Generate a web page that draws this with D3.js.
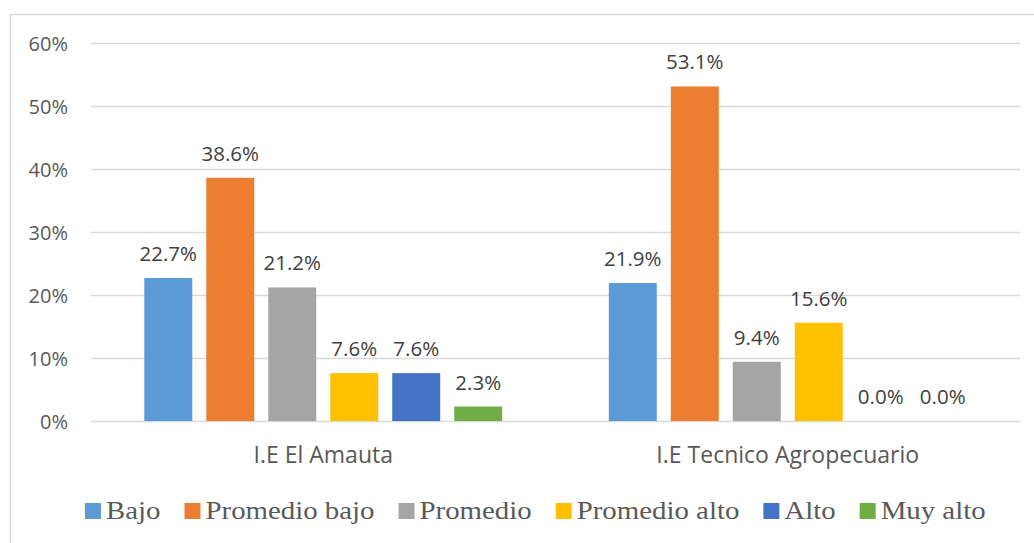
<!DOCTYPE html>
<html>
  <head>
    <meta http-equiv="Content-Type" content="text/html; charset=UTF-8">
    <script type="text/javascript" src="https://cdn.jsdelivr.net/npm/d3@7"></script>
    <style>
      body { margin: 0; background: #fff; }
      #chart { width: 1034px; height: 543px; }
    </style>
  </head>
  <body>
    <div id="chart"></div>
    <script>
// data
var categories = ["I.E El Amauta", "I.E Tecnico Agropecuario"];
var series = ["Bajo", "Promedio bajo", "Promedio", "Promedio alto", "Alto", "Muy alto"];
var amautaValues = [22.7, 38.6, 21.2, 7.6, 7.6, 2.3];
var tecnicoValues = [21.9, 53.1, 9.4, 15.6, 0.0, 0.0];
var yTicks = [0, 10, 20, 30, 40, 50, 60];
var colors = ["#5B9BD5", "#ED7D31", "#A5A5A5", "#FFC000", "#4472C4", "#70AD47"];

var values = [amautaValues, tecnicoValues];

var width = 1034, height = 543;
var margin = {top: 43, left: 91, right: 14, bottom: 122};
var textColor = "#595959";

var svg = d3.select("#chart").append("svg")
    .attr("width", width)
    .attr("height", height);

// chart border
svg.append("rect")
    .attr("x", 10.5)
    .attr("y", 14.5)
    .attr("width", 1040)
    .attr("height", 560)
    .attr("fill", "none")
    .attr("stroke", "#d9d9d9")
    .attr("stroke-width", 1.5);

var x0 = d3.scaleBand()
    .domain(categories)
    .range([margin.left, width - margin.right]);

var x1 = d3.scaleBand()
    .domain(series)
    .range([0, x0.bandwidth()])
    .paddingInner(0.226)
    .paddingOuter(0.86);

var y = d3.scaleLinear()
    .domain([0, 60])
    .range([height - margin.bottom, margin.top]);

// grid lines
svg.append("g").selectAll("line")
    .data(yTicks)
  .enter().append("line")
    .attr("x1", margin.left)
    .attr("x2", width - margin.right)
    .attr("y1", function (d) { return Math.round(y(d)) + 0.5; })
    .attr("y2", function (d) { return Math.round(y(d)) + 0.5; })
    .attr("stroke", "#d9d9d9")
    .attr("stroke-width", 1.5);

// y tick labels
svg.append("g").selectAll("text")
    .data(yTicks)
  .enter().append("text")
    .attr("x", 68)
    .attr("y", function (d) { return y(d) + 7.5; })
    .attr("text-anchor", "end")
    .attr("font-family", "'Open Sans', sans-serif")
    .attr("font-size", "20px")
    .attr("fill", textColor)
    .text(function (d) { return d + "%"; });

// bars
var group = svg.append("g").selectAll("g")
    .data(categories)
  .enter().append("g")
    .attr("transform", function (d) { return "translate(" + x0(d) + ",0)"; });

var cells = group.selectAll("g")
    .data(function (d, i) {
      return series.map(function (s, j) { return {s: s, v: values[i][j], c: colors[j]}; });
    })
  .enter().append("g");

cells.append("rect")
    .attr("x", function (d) { return x1(d.s); })
    .attr("width", x1.bandwidth())
    .attr("y", function (d) { return y(d.v); })
    .attr("height", function (d) { return y(0) - y(d.v); })
    .attr("fill", function (d) { return d.c; });

cells.append("text")
    .attr("x", function (d) { return x1(d.s) + x1.bandwidth() / 2; })
    .attr("y", function (d) { return y(d.v) - 17; })
    .attr("text-anchor", "middle")
    .attr("font-family", "'Open Sans', sans-serif")
    .attr("font-size", "20.5px")
    .attr("fill", "#404040")
    .text(function (d) { return d.v.toFixed(1) + "%"; });

// category labels
svg.append("g").selectAll("text")
    .data(categories)
  .enter().append("text")
    .attr("x", function (d) { return x0(d) + x0.bandwidth() / 2; })
    .attr("y", 463)
    .attr("text-anchor", "middle")
    .attr("font-family", "'Open Sans', sans-serif")
    .attr("font-size", "23px")
    .attr("fill", textColor)
    .text(function (d) { return d; });

// legend
var legend = svg.append("g");
var stretch = 1.11;
var item = legend.selectAll("g")
    .data(series)
  .enter().append("g");

item.append("rect")
    .attr("width", 16)
    .attr("height", 16)
    .attr("y", 503)
    .attr("fill", function (d, i) { return colors[i]; });

item.append("text")
    .attr("font-family", "'Times New Roman', 'Liberation Serif', Tinos, serif")
    .attr("font-size", "26px")
    .attr("fill", textColor)
    .attr("transform", "translate(21,519) scale(" + stretch + ",1)")
    .text(function (d) { return d; });

var pos = 0, gap = 24, starts = [];
item.each(function () {
  var w = d3.select(this).select("text").node().getComputedTextLength() * stretch;
  starts.push(pos);
  pos += 21 + w + gap;
});
var left = 85;
item.attr("transform", function (d, i) { return "translate(" + (left + starts[i]) + ",0)"; });
    </script>
  </body>
</html>
